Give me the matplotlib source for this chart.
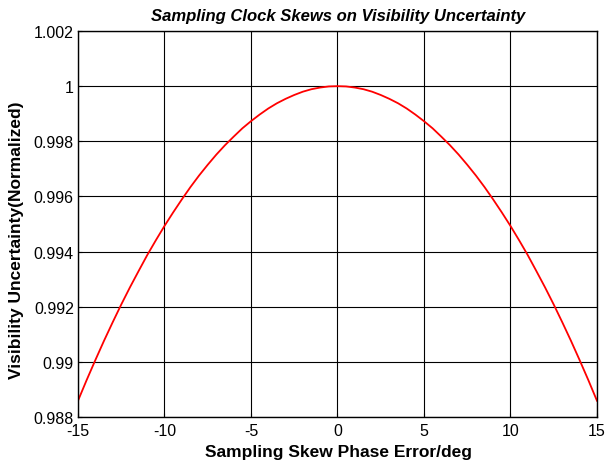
import matplotlib
matplotlib.use("Agg")
import matplotlib.pyplot as plt

plt.rcParams['font.family'] = ['Liberation Sans', 'DejaVu Sans']
plt.rcParams['axes.unicode_minus'] = False

# values, 0 .. 15 deg (curve is symmetric about 0)
pos_err = [0, 0.5, 1, 1.5, 2, 2.5, 3, 3.5, 4, 4.5, 5, 5.5, 6, 6.5, 7, 7.5,
           8, 8.5, 9, 9.5, 10, 10.5, 11, 11.5, 12, 12.5, 13, 13.5, 14, 14.5, 15]
pos_vis = [1.0, 0.99999, 0.99995, 0.99989, 0.9998, 0.99968, 0.99954, 0.99938,
           0.99919, 0.99897, 0.99873, 0.99847, 0.99817, 0.99786, 0.99752, 0.99715,
           0.99676, 0.99634, 0.99589, 0.99542, 0.99493, 0.99441, 0.99387, 0.99329,
           0.9927, 0.99208, 0.99143, 0.99076, 0.99006, 0.98934, 0.98859]

phase_err = [-x for x in pos_err[:0:-1]] + pos_err
visibility = pos_vis[:0:-1] + pos_vis

xticks = [-15, -10, -5, 0, 5, 10, 15]
yticks = [0.988, 0.99, 0.992, 0.994, 0.996, 0.998, 1.0, 1.002]
ytick_labels = ['0.988', '0.99', '0.992', '0.994', '0.996', '0.998', '1', '1.002']

fig = plt.figure(figsize=(6.06, 4.64), dpi=100)
ax = fig.add_axes([0.1287, 0.0991, 0.8564, 0.8319])

ax.plot(phase_err, visibility, color='red', linewidth=1.3)

ax.set_xlim(-15, 15)
ax.set_ylim(0.988, 1.002)
ax.set_xticks(xticks)
ax.set_yticks(yticks)
ax.set_yticklabels(ytick_labels)
ax.grid(True, color='black', linestyle='-', linewidth=0.8)
ax.tick_params(direction='in', labelsize=11.5, length=3)
ax.tick_params(axis='x', pad=4.5)
ax.tick_params(axis='y', pad=3)
for s in ax.spines.values():
    s.set_linewidth(1.0)

fig.text(0.5586, 1 - 17 / 464, 'Sampling Clock Skews on Visibility Uncertainty',
         fontsize=12, fontweight='bold', fontstyle='italic', ha='center', va='center')
fig.text(0.5586, 1 - 453 / 464, 'Sampling Skew Phase Error/deg',
         fontsize=12.5, fontweight='bold', ha='center', va='center')
fig.text(17 / 606, 1 - 240 / 464, 'Visibility Uncertainty(Normalized)',
         fontsize=12.5, fontweight='bold', ha='center', va='center', rotation=90)

fig.savefig('out.png', dpi=100)
